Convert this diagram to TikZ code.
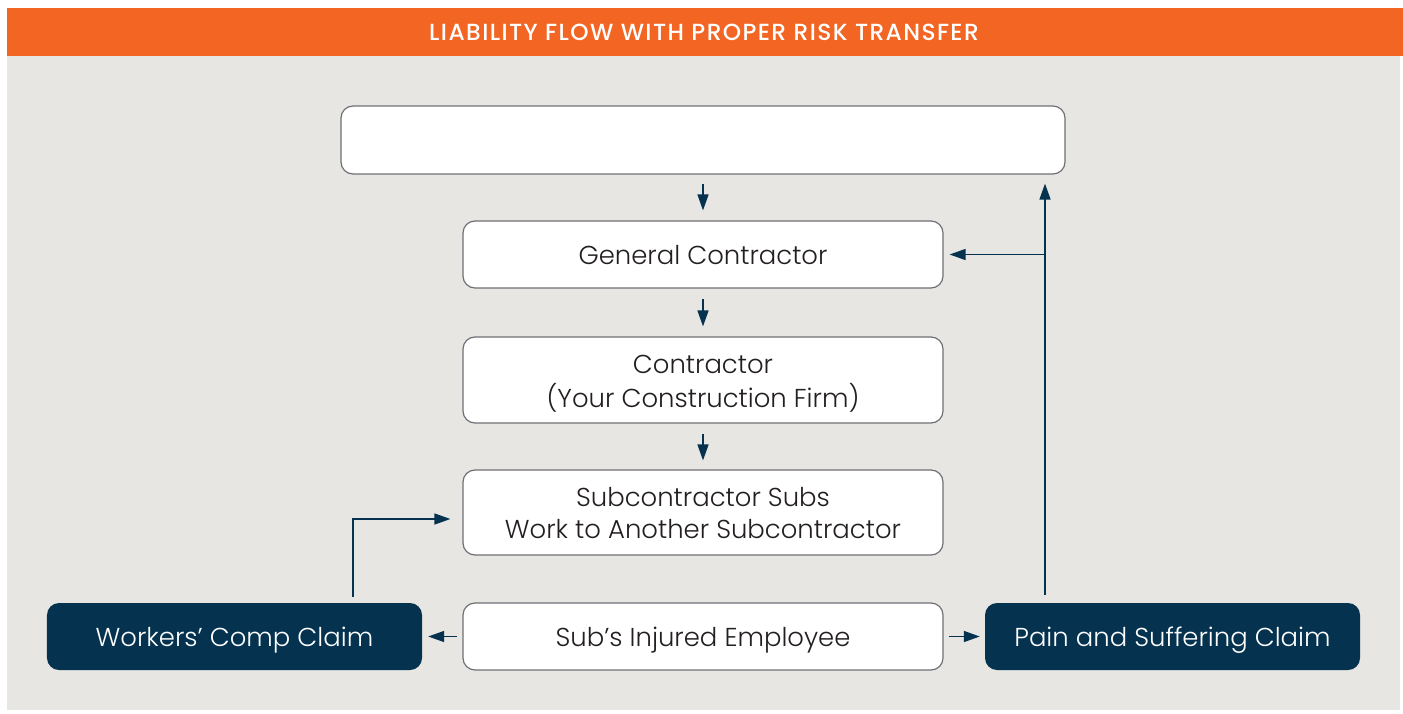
\documentclass[tikz,border=0pt]{standalone}
\usepackage{fontspec}
\setmainfont{Poppins Light}[BoldFont={Poppins Medium}]
\newfontface\titlefont{Poppins Medium}[LetterSpace=6]
\usetikzlibrary{arrows.meta}
\definecolor{orangeband}{HTML}{F26522}
\definecolor{navy}{HTML}{04324F}
\definecolor{bggray}{HTML}{E8E6E2}
\definecolor{boxborder}{HTML}{6F7075}
\definecolor{txt}{HTML}{231F20}
\newcommand{\lowtext}[1]{\raisebox{-4bp}[\height][\depth]{\begin{tabular}{@{}c@{}}#1\end{tabular}}}
\tikzset{
  box/.style={draw=boxborder, line width=1.2bp, fill=white, rounded corners=12bp,
    inner sep=0pt, text=txt, font=\fontsize{26}{32}\selectfont},
  darkbox/.style={fill=navy, rounded corners=12bp, inner sep=0pt,
    text=white, font=\fontsize{26}{32}\selectfont},
  arr/.style={draw=navy, line width=1.5bp, -{Triangle[length=16bp,width=11bp]}},
}
\begin{document}
\begin{tikzpicture}[x=1bp,y=-1bp]
\useasboundingbox (0,0) rectangle (1403,713);
\fill[white] (0,0) rectangle (1403,713);
\fill[bggray] (7,55) rectangle (1400,710);
\fill[orangeband] (7,8) rectangle (1403,56);
\node[text=white, font=\titlefont\fontsize{23.4}{26}\selectfont] (title) at (704,32) {LIABILITY FLOW WITH PROPER RISK TRANSFER};

\node[box, minimum width=724bp, minimum height=68bp] (top) at (703,140) {};
\node[box, minimum width=480bp, minimum height=67bp] (gc) at (703,254.5) {\lowtext{General Contractor}};
\node[box, minimum width=480bp, minimum height=86bp] (con) at (703,380) {\lowtext{Contractor\\(Your Construction Firm)}};
\node[box, minimum width=480bp, minimum height=85bp] (sub) at (703,512.5) {\lowtext{Subcontractor Subs\\Work to Another Subcontractor}};
\node[box, minimum width=480bp, minimum height=67bp] (inj) at (703,636.5) {\lowtext{Sub’s Injured Employee}};
\node[darkbox, minimum width=375bp, minimum height=67bp] (wc) at (234.5,636.5) {\lowtext{Workers’ Comp Claim}};
\node[darkbox, minimum width=375bp, minimum height=67bp] (pain) at (1172.5,636.5) {\lowtext{Pain and Suffering Claim}};

\draw[arr, shorten <=9bp, shorten >=10bp] (top) -- (gc);
\draw[arr, shorten <=10bp, shorten >=10bp] (gc) -- (con);
\draw[arr, shorten <=10bp, shorten >=9bp] (con) -- (sub);

\coordinate (wn) at ([xshift=118.5bp]wc.north);
\draw[arr, shorten <=6bp, shorten >=12bp] (wn) |- ([yshift=-6.5bp]sub.west);
\draw[arr, shorten <=5bp, shorten >=6bp] (inj.west) -- (wc.east);
\draw[arr, shorten <=5bp, shorten >=5bp] (inj.east) -- (pain.west);

\coordinate (pn) at ([xshift=-127.5bp]pain.north);
\draw[arr, shorten <=8bp, shorten >=9bp] (pn) -- (pn |- top.south);
\draw[arr, shorten >=6bp] (pn |- gc.east) -- (gc.east);
\end{tikzpicture}
\end{document}
